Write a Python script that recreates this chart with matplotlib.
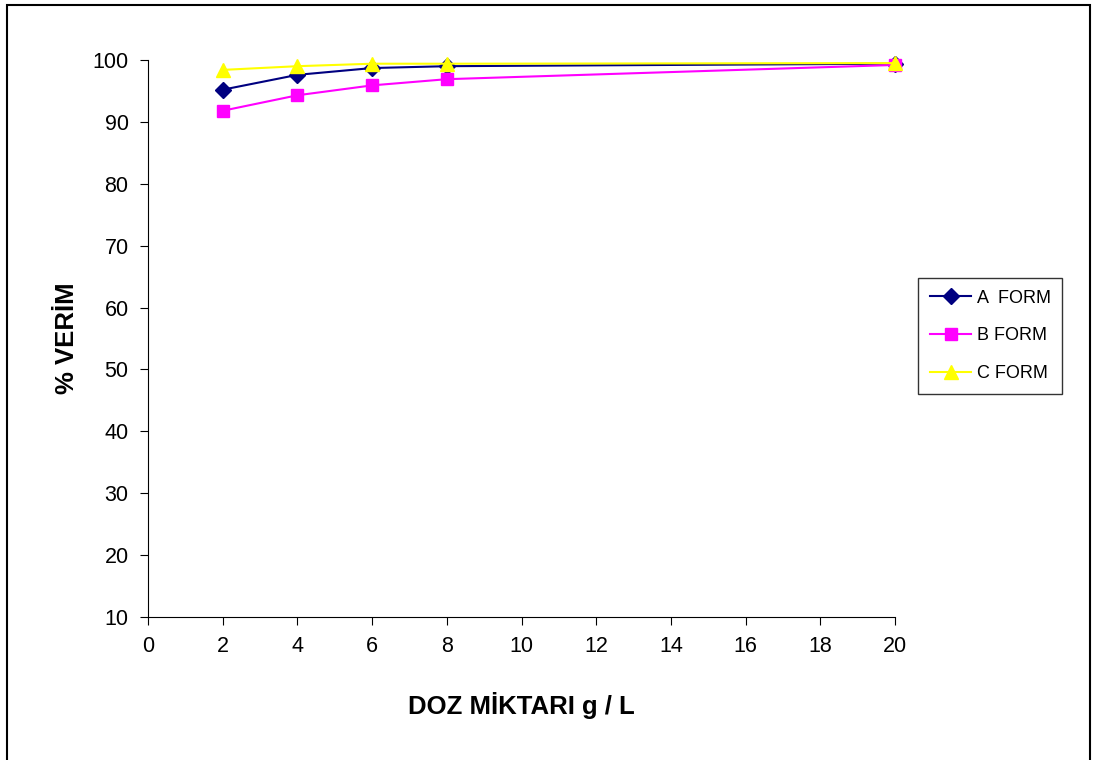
import matplotlib
matplotlib.use('Agg')
import matplotlib.pyplot as plt
from matplotlib.patches import Rectangle

plt.rcParams['font.family'] = ['Liberation Sans', 'DejaVu Sans']

doz = [2, 4, 6, 8, 20]
a_form = [95.2, 97.6, 98.7, 99.0, 99.4]
b_form = [91.8, 94.3, 95.9, 96.9, 99.2]
c_form = [98.4, 99.0, 99.4, 99.4, 99.5]

fig = plt.figure(figsize=(10.97, 7.6), dpi=100)
ax = fig.add_axes([148/1097, 1 - 617/760, (895 - 148)/1097, (617 - 60)/760])

ax.plot(doz, a_form, '-D', color='#000080', ms=8, lw=1.5, label='A  FORM', clip_on=False)
ax.plot(doz, b_form, '-s', color='#ff00ff', ms=8, lw=1.5, label='B FORM', clip_on=False)
ax.plot(doz, c_form, '-^', color='#ffff00', ms=10, lw=1.5, label='C FORM', clip_on=False)

ax.set_xlim(0, 20)
ax.set_ylim(10, 100)
ax.set_xticks(range(0, 21, 2))
ax.set_yticks(range(10, 101, 10))
ax.tick_params(labelsize=15.5, length=6, direction='out', pad=8)
ax.spines['top'].set_visible(False)
ax.spines['right'].set_visible(False)

ax.set_xlabel('DOZ MİKTARI g / L', fontsize=18.5, fontweight='bold', labelpad=25)
ax.set_ylabel('% VERİM', fontsize=18.5, fontweight='bold', labelpad=10)

leg = ax.legend(loc='upper left', bbox_to_anchor=(918/1097, 1 - 278/760), bbox_transform=fig.transFigure,
                fontsize=13, frameon=True, fancybox=False, edgecolor='black', borderaxespad=0,
                handlelength=2.3, borderpad=0.65, labelspacing=1.15, handletextpad=0.3)
leg.get_frame().set_linewidth(1)

fig.patches.append(Rectangle((7/1097, -0.01), (1090 - 7)/1097, 1 - 5/760 + 0.01,
                             transform=fig.transFigure, fill=False, edgecolor='black', lw=1.5))

fig.savefig('out.png', dpi=100)
